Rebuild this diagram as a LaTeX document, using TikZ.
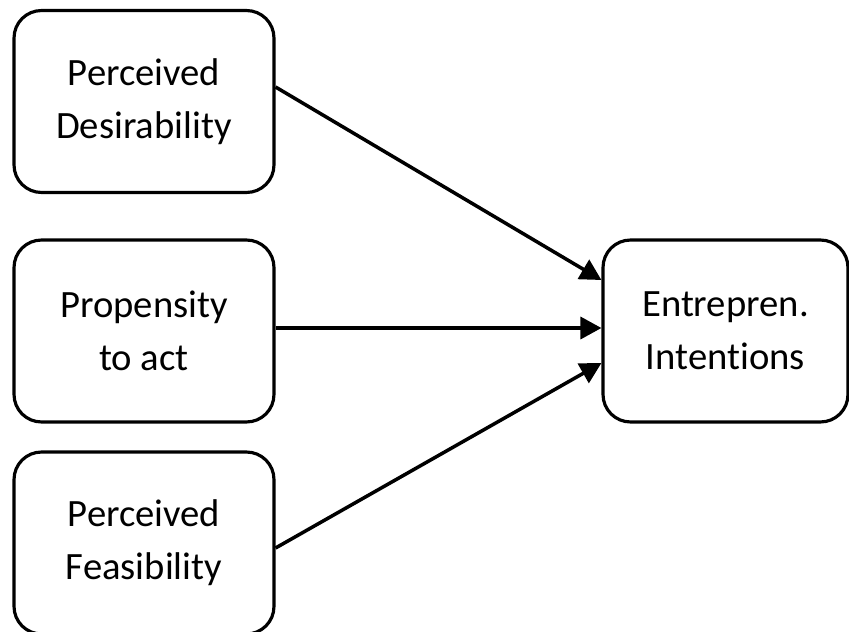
\documentclass[tikz,border=0pt]{standalone}
\usepackage{fontspec}
\setmainfont[Ligatures=NoCommon]{Carlito}
\usetikzlibrary{arrows.meta}

\tikzset{
  factor/.style={draw, line width=1.8pt, rounded corners=0.55cm,
    minimum width=5.2cm, minimum height=3.64cm, align=center,
    font=\fontsize{22}{30}\selectfont},
  conn/.style={line width=2pt, -{Triangle[length=0.42cm,width=0.44cm]}}
}

\begin{document}
\begin{tikzpicture}[x=0.02cm, y=-0.02cm]
\useasboundingbox (0,0) rectangle (849,632);

\node[factor] (desir) at (144,101.5) {Perceived\\Desirability};
\node[factor] (prop) at (144,331) {Propensity\\to act};
\node[factor] (feas) at (144,543) {Perceived\\Feasibility};
\node[factor, minimum width=4.9cm] (intent) at (725.5,331) {Entrepren.\\Intentions};

\draw[conn] ([yshift=0.29cm]desir.east) -- ([yshift=1.02cm]intent.west);
\draw[conn] ([yshift=0.06cm]prop.east) -- ([yshift=0.06cm]intent.west);
\draw[conn] ([yshift=-0.1cm]feas.east) -- ([yshift=-0.64cm]intent.west);
\end{tikzpicture}
\end{document}
